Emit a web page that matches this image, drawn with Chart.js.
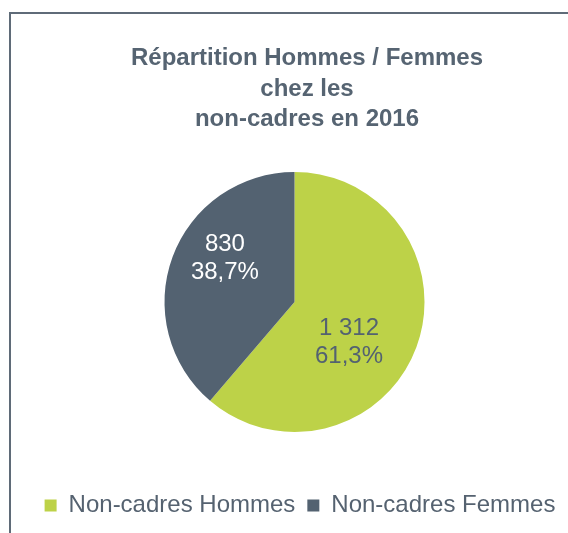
<!DOCTYPE html>
<html>
<head>
<meta charset="utf-8">
<script src="https://cdn.jsdelivr.net/npm/chart.js@4/dist/chart.umd.min.js"></script>
<style>
  body { margin: 0; background: #fff; }
  .wrap { position: relative; width: 568px; height: 533px; }
  .frame { position: absolute; left: 9px; top: 12px; right: -10px; bottom: -10px; border: 2px solid #5f6b78; }
  canvas { position: absolute; left: 0; top: 0; }
</style>
</head>
<body>
<div class="wrap">
  <div class="frame"></div>
  <canvas id="myChart" width="568" height="533"></canvas>
</div>
<script>
const categories = ["Non-cadres Hommes", "Non-cadres Femmes"];
const values = [1312, 830];
const titleLines = ["Répartition Hommes / Femmes", "chez les", "non-cadres en 2016"];

const sliceColors = ["#bdd248", "#536271"];
const labelColors = ["#536271", "#ffffff"];
// label placement: angle shift (deg) from the slice middle, fraction of radius
const labelShift = [16, 12];
const labelDist = [0.52, 0.633];
// the pie sits a bit left of the chart area centre
const pieShiftX = -5.5;

const total = values.reduce((a, b) => a + b, 0);

function fmtNumber(n) {
  return String(n).replace(/\B(?=(\d{3})+(?!\d))/g, " ");
}
function fmtPercent(n) {
  return (n / total * 100).toFixed(1).replace(".", ",") + "%";
}

const sliceLabels = {
  id: "sliceLabels",
  beforeDatasetsDraw(chart) {
    chart.ctx.save();
    chart.ctx.translate(pieShiftX, 0);
  },
  afterDatasetsDraw(chart) {
    const ctx = chart.ctx;
    const meta = chart.getDatasetMeta(0);
    ctx.font = "24px 'Liberation Sans', Arial, sans-serif";
    ctx.textAlign = "center";
    ctx.textBaseline = "middle";
    meta.data.forEach((arc, i) => {
      const p = arc.getProps(["x", "y", "startAngle", "endAngle", "outerRadius"], true);
      const mid = (p.startAngle + p.endAngle) / 2 + labelShift[i] * Math.PI / 180;
      const r = p.outerRadius * labelDist[i];
      const cx = p.x + Math.cos(mid) * r;
      const cy = p.y + Math.sin(mid) * r;
      ctx.fillStyle = labelColors[i];
      ctx.fillText(fmtNumber(values[i]), cx, cy - 14);
      ctx.fillText(fmtPercent(values[i]), cx, cy + 14);
    });
    ctx.restore();
  }
};

const data = {
  labels: categories,
  datasets: [
    {
      data: values,
      backgroundColor: sliceColors,
      borderWidth: 0,
      radius: 130,
    },
  ],
};

const config = {
  type: "pie",
  data: data,
  options: {
    responsive: false,
    animation: false,
    layout: { padding: { left: 32, right: -14, top: 0, bottom: 5.5 } },
    plugins: {
      title: {
        display: true,
        text: titleLines,
        color: "#566472",
        font: { family: "'Liberation Sans', Arial, sans-serif", size: 24, weight: "bold", lineHeight: 1.27 },
        padding: { top: 43.5, bottom: -12.5 },
      },
      legend: {
        position: "bottom",
        fullSize: false,
        labels: {
          boxWidth: 12,
          boxHeight: 12,
          padding: 12,
          color: "#556270",
          font: { family: "'Liberation Sans', Arial, sans-serif", size: 24 },
        },
      },
      tooltip: { enabled: false },
    },
  },
  plugins: [sliceLabels],
};

new Chart(document.getElementById("myChart"), config);
</script>
</body>
</html>
